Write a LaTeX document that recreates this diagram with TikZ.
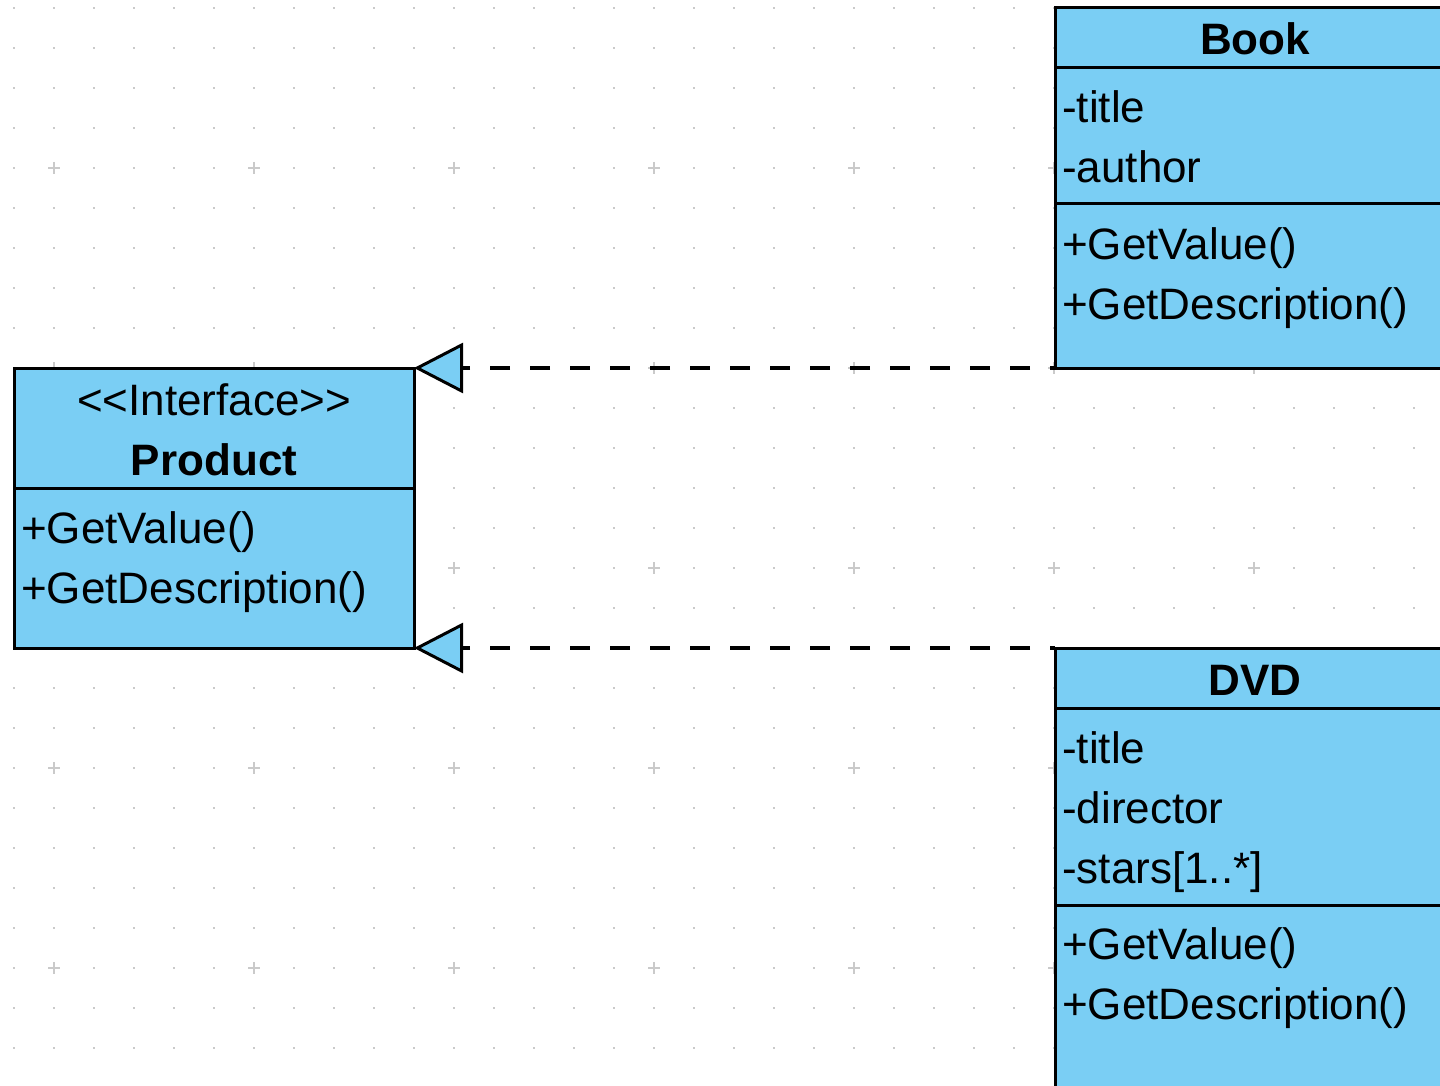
\documentclass[tikz,border=0pt]{standalone}
\usepackage{fontspec}
\setmainfont{Liberation Sans}
\usetikzlibrary{arrows.meta}
\definecolor{umlblue}{HTML}{7ACEF4}
\definecolor{gridgray}{HTML}{CACACA}
\begin{document}
\begin{tikzpicture}[x=1pt,y=-1pt,
  classbox/.style={draw, line width=3pt, fill=umlblue, minimum width=400pt,
    inner sep=0pt, outer sep=0pt, anchor=north west},
  divider/.style={line width=3pt},
  member/.style={anchor=base west, inner sep=0pt, font=\fontsize{44}{52}\selectfont},
  classname/.style={anchor=base, inner sep=0pt, font=\fontsize{44}{52}\selectfont\bfseries},
  stereo/.style={anchor=base, inner sep=0pt, font=\fontsize{44}{52}\selectfont},
  realize/.style={draw, line width=3.5pt, dash pattern=on 20pt off 20pt, dash phase=15pt,
    -{Triangle[length=49pt,width=50pt,fill=umlblue,line width=3pt,line join=miter]}},
]
\useasboundingbox (0,0) rectangle (1440,1086);
\fill[white] (0,0) rectangle (1440,1086);

% background grid: dots every 40pt, crosses every 200pt
\foreach \i in {0,...,35}
  \foreach \j in {0,...,26}
    \fill[gridgray] ({14+40*\i-1},{8+40*\j-1}) rectangle ++(2,2);
\foreach \i in {0,...,7}
  \foreach \j in {0,...,4}
    \draw[gridgray, line width=1.5pt]
      ({54+200*\i-6},{168+200*\j}) -- ++(12,0)
      ({54+200*\i},{168+200*\j-6}) -- ++(0,12);

% interface Product
\node[classbox, minimum height=280pt] (product) at (14,368) {};
\draw[divider] (14,488) -- (414,488);
\node[stereo] (pstereo) at (214,415) {<{}<Interface>{}>};
\node[classname] (pname) at (214,475) {Product};
\node[member] (pm1) at (21,543) {+GetValue()};
\node[member] (pm2) at (21,603) {+GetDescription()};

% class Book
\node[classbox, minimum height=360pt] (book) at (1055,8) {};
\draw[divider] (1055,68) -- (1455,68);
\draw[divider] (1055,204) -- (1455,204);
\node[classname] (bname) at (1255,55) {Book};
\node[member] (ba1) at (1062,123) {-title};
\node[member] (ba2) at (1062,183) {-author};
\node[member] (bm1) at (1062,259) {+GetValue()};
\node[member] (bm2) at (1062,319) {+GetDescription()};

% class DVD
\node[classbox, minimum height=470pt] (dvd) at (1055,648) {};
\draw[divider] (1055,708) -- (1455,708);
\draw[divider] (1055,905) -- (1455,905);
\node[classname] (dname) at (1255,695) {DVD};
\node[member] (da1) at (1062,763) {-title};
\node[member] (da2) at (1062,823) {-director};
\node[member] (da3) at (1062,883) {-stars[1..*]};
\node[member] (dm1) at (1062,959) {+GetValue()};
\node[member] (dm2) at (1062,1019) {+GetDescription()};

% realizations
\draw[realize] (book.south west) -- (product.north east);
\draw[realize] (dvd.north west) -- (product.south east);
\end{tikzpicture}
\end{document}
